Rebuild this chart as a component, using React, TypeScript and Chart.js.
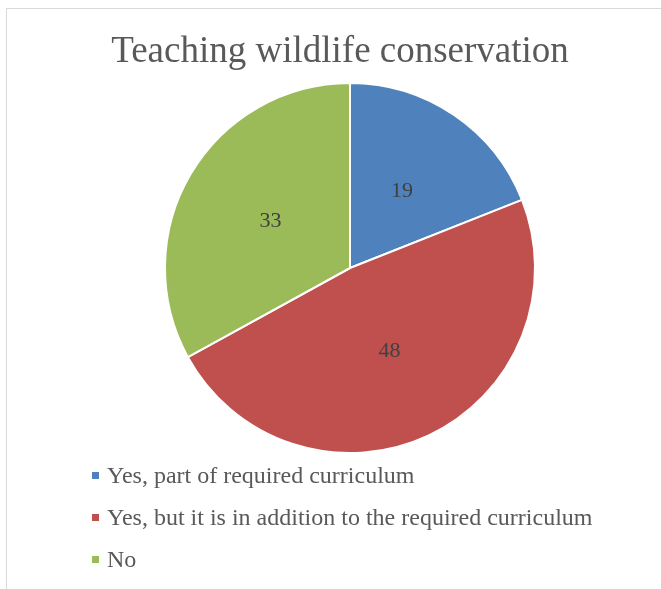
import React, { useEffect, useRef } from "react";
import { Chart, registerables } from "chart.js";

Chart.register(...registerables);

const TITLE = "Teaching wildlife conservation";
const CATEGORIES = [
  "Yes, part of required curriculum",
  "Yes, but it is in addition to the required curriculum",
  "No",
];
const VALUES = [19, 48, 33];
const COLORS = ["#4F81BD", "#C0504D", "#9BBB59"];

const FONT = "'Liberation Serif', 'Times New Roman', serif";

const labelPlugin = {
  id: "sliceLabels",
  afterDatasetsDraw(chart: any) {
    const ctx = chart.ctx;
    const meta = chart.getDatasetMeta(0);
    ctx.save();
    ctx.font = `22px ${FONT}`;
    ctx.fillStyle = "#404040";
    ctx.textAlign = "center";
    ctx.textBaseline = "middle";
    meta.data.forEach((arc: any, i: number) => {
      const p = arc.getCenterPoint();
      ctx.fillText(String(chart.data.datasets[0].data[i]), p.x, p.y);
    });
    ctx.restore();
  },
};

const titlePlugin = {
  id: "topTitle",
  afterDraw(chart: any) {
    const ctx = chart.ctx;
    const area = chart.chartArea;
    ctx.save();
    ctx.font = `37px ${FONT}`;
    ctx.fillStyle = "#595959";
    ctx.textAlign = "center";
    ctx.textBaseline = "alphabetic";
    ctx.fillText(TITLE, (area.left + area.right) / 2 - 10, area.top - 20);
    ctx.restore();
  },
};

const legendPlugin = {
  id: "vertLegend",
  afterDraw(chart: any) {
    const ctx = chart.ctx;
    const area = chart.chartArea;
    const labels = chart.data.labels as string[];
    const colors = chart.data.datasets[0].backgroundColor as string[];
    ctx.save();
    ctx.font = `24px ${FONT}`;
    ctx.textAlign = "left";
    ctx.textBaseline = "alphabetic";
    const x0 = 92;
    const y0 = area.bottom + 29;
    const step = 42;
    labels.forEach((lab, i) => {
      const base = y0 + i * step;
      ctx.fillStyle = colors[i];
      ctx.fillRect(x0, base - 11, 7, 7);
      ctx.fillStyle = "#595959";
      ctx.fillText(lab, x0 + 15, base);
    });
    ctx.restore();
  },
};

export default function App() {
  const ref = useRef<HTMLCanvasElement | null>(null);
  useEffect(() => {
    if (!ref.current) return;
    const chart = new Chart(ref.current, {
      type: "pie",
      data: {
        labels: CATEGORIES,
        datasets: [
          {
            data: VALUES,
            backgroundColor: COLORS,
            borderColor: "#FFFFFF",
            borderWidth: 2,
          },
        ],
      },
      options: {
        responsive: false,
        animation: false,
        layout: { padding: { left: 39, right: 0, top: 82, bottom: 135 } },
        plugins: {
          legend: { display: false },
          tooltip: { enabled: false },
          title: { display: false },
        },
      },
      plugins: [labelPlugin, titlePlugin, legendPlugin],
    });
    return () => chart.destroy();
  }, []);
  return (
    <div
      style={{
        position: "fixed",
        left: 0,
        top: 0,
        width: 661,
        height: 589,
        background: "#fff",
        overflow: "hidden",
      }}
    >
      <div
        style={{
          position: "absolute",
          left: 6,
          top: 8,
          width: 700,
          height: 650,
          border: "1px solid #D9D9D9",
        }}
      />
      <canvas
        ref={ref}
        width={661}
        height={589}
        style={{ position: "absolute", left: 0, top: 0 }}
      />
    </div>
  );
}
